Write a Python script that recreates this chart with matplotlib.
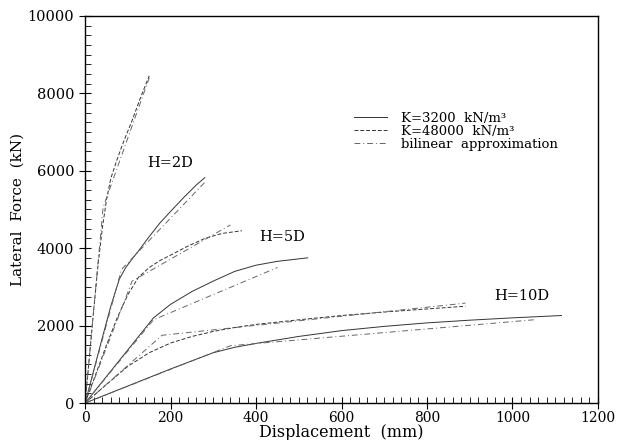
import matplotlib
matplotlib.use('Agg')
from matplotlib import pyplot as plt
from matplotlib.ticker import MultipleLocator
import numpy as np

# H=2D, K=48000
x_2d_k48 = [0, 10, 20, 30, 40, 50, 60, 75, 90, 110, 130, 150]
y_2d_k48 = [0, 1200, 2400, 3550, 4500, 5250, 5800, 6300, 6750, 7300, 7900, 8450]
xb_2d_k48 = [0, 42, 150]
yb_2d_k48 = [0, 5050, 8400]

# H=2D, K=3200
x_2d_k32 = [0, 20, 40, 60, 80, 95, 110, 125, 150, 175, 200, 230, 260, 280]
y_2d_k32 = [0, 840, 1680, 2500, 3200, 3500, 3720, 3930, 4300, 4650, 4950, 5300, 5630, 5820]
xb_2d_k32 = [0, 85, 280]
yb_2d_k32 = [0, 3450, 5700]

# H=5D, K=48000
x_5d_k48 = [0, 25, 50, 75, 100, 125, 150, 175, 200, 240, 280, 320, 367]
y_5d_k48 = [0, 750, 1500, 2200, 2800, 3250, 3500, 3680, 3820, 4050, 4250, 4380, 4450]
xb_5d_k48 = [0, 110, 340]
yb_5d_k48 = [0, 3150, 4600]

# H=5D, K=3200
x_5d_k32 = [0, 40, 80, 120, 160, 200, 250, 300, 350, 400, 450, 521]
y_5d_k32 = [0, 550, 1100, 1650, 2200, 2550, 2880, 3150, 3400, 3560, 3660, 3750]
xb_5d_k32 = [0, 160, 450]
yb_5d_k32 = [0, 2150, 3500]

# H=10D, K=48000
x_10d_k48 = [0, 50, 100, 150, 200, 250, 300, 350, 400, 500, 600, 700, 800, 890]
y_10d_k48 = [0, 480, 950, 1300, 1550, 1720, 1850, 1950, 2030, 2150, 2260, 2350, 2430, 2500]
xb_10d_k48 = [0, 180, 890]
yb_10d_k48 = [0, 1750, 2580]

# H=10D, K=3200
x_10d_k32 = [0, 100, 200, 300, 350, 400, 450, 500, 600, 700, 800, 900, 1000, 1115]
y_10d_k32 = [0, 440, 880, 1300, 1440, 1540, 1630, 1720, 1870, 1980, 2070, 2140, 2200, 2260]
xb_10d_k32 = [0, 340, 1050]
yb_10d_k32 = [0, 1480, 2150]

plt.rcParams['font.family'] = 'DejaVu Serif'

fig = plt.figure(figsize=(6.17, 4.40), dpi=100)
ax = fig.add_axes([0.138, 0.084, 0.831, 0.88])

lc = '#333333'
bc = '#666666'
lw = 0.7
dd = (6, 3, 1, 3)
ax.plot(x_2d_k32, y_2d_k32, '-', color=lc, lw=lw, label='K=3200  kN/m³')
ax.plot(x_2d_k48, y_2d_k48, '--', color=lc, lw=lw, dashes=(4, 2), label='K=48000  kN/m³')
ax.plot(xb_2d_k48, yb_2d_k48, '-.', color=bc, lw=lw, dashes=dd,
        label='bilinear  approximation')
ax.plot(xb_2d_k32, yb_2d_k32, '-.', color=bc, lw=lw, dashes=dd)

ax.plot(x_5d_k32, y_5d_k32, '-', color=lc, lw=lw)
ax.plot(x_5d_k48, y_5d_k48, '--', color=lc, lw=lw, dashes=(4, 2))
ax.plot(xb_5d_k48, yb_5d_k48, '-.', color=bc, lw=lw, dashes=dd)
ax.plot(xb_5d_k32, yb_5d_k32, '-.', color=bc, lw=lw, dashes=dd)

ax.plot(x_10d_k32, y_10d_k32, '-', color=lc, lw=lw)
ax.plot(x_10d_k48, y_10d_k48, '--', color=lc, lw=lw, dashes=(4, 2))
ax.plot(xb_10d_k48, yb_10d_k48, '-.', color=bc, lw=lw, dashes=dd)
ax.plot(xb_10d_k32, yb_10d_k32, '-.', color=bc, lw=lw, dashes=dd)

ax.text(198, 6210, 'H=2D', ha='center', va='center', fontsize=10.5)
ax.text(460, 4300, 'H=5D', ha='center', va='center', fontsize=10.5)
ax.text(1023, 2770, 'H=10D', ha='center', va='center', fontsize=10.5)

ax.set_xlim(0, 1200)
ax.set_ylim(0, 10000)
ax.xaxis.set_major_locator(MultipleLocator(200))
ax.xaxis.set_minor_locator(MultipleLocator(20))
ax.yaxis.set_major_locator(MultipleLocator(2000))
ax.yaxis.set_minor_locator(MultipleLocator(250))
ax.tick_params(which='major', direction='inout', length=8, width=0.8)
ax.tick_params(which='minor', direction='in', length=4, width=0.6)
ax.tick_params(axis='y', labelsize=10.5, pad=4)
ax.tick_params(axis='x', labelsize=10, pad=2)
for s in ax.spines.values():
    s.set_linewidth(1.0)

ax.set_xlabel('Displacement  (mm)', fontsize=11.5, labelpad=-1)
ax.set_ylabel('Lateral  Force  (kN)', fontsize=11, labelpad=2)

ax.legend(loc='upper left', bbox_to_anchor=(0.515, 0.765), frameon=False,
          fontsize=9.5, handlelength=2.5, handletextpad=1.0, labelspacing=0.0,
          borderaxespad=0)

fig.savefig('out.png', dpi=100)
